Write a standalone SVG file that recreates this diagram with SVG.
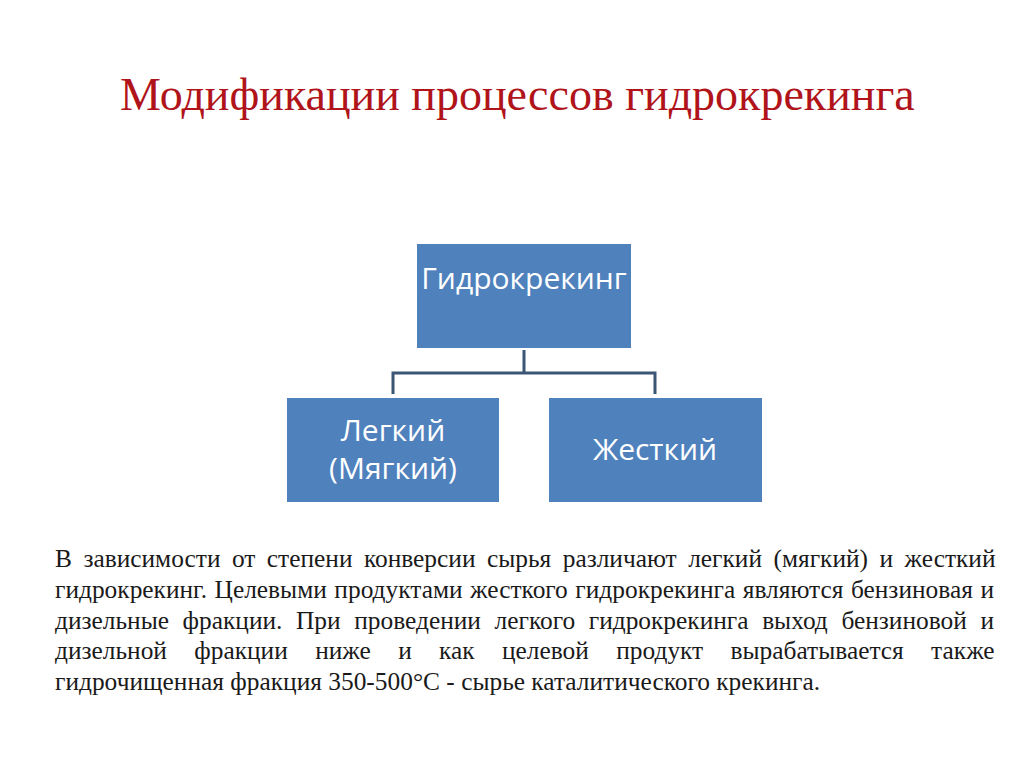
<svg xmlns="http://www.w3.org/2000/svg" width="1024" height="767" viewBox="0 0 1024 767">
<style>
.box{fill:#4F81BD;}
.bt{font-family:"Open Sans","Noto Sans",sans-serif;font-size:30px;fill:#FFFFFF;text-anchor:middle;}
.conn{fill:none;stroke:#3A5675;stroke-width:3;}
.title{font-family:"Liberation Serif",serif;font-size:46px;fill:#B0141A;}
.body{font-family:"Liberation Serif",serif;font-size:25.4px;fill:#1a1a1a;}
</style>
<rect width="1024" height="767" fill="#FFFFFF"/>
<text class="title" x="120" y="110">Модификации процессов гидрокрекинга</text>
<g id="connectors">
<path class="conn" d="M524,350 V373 M393,394 V373 H655 V394"/>
</g>
<g id="node-root">
<rect class="box" x="417" y="244" width="214" height="104"/>
<text class="bt" x="524" y="289">Гидрокрекинг</text>
</g>
<g id="node-light">
<rect class="box" x="287" y="398" width="212" height="104"/>
<text class="bt" x="393" y="441">Легкий</text>
<text class="bt" x="393" y="479">(Мягкий)</text>
</g>
<g id="node-hard">
<rect class="box" x="549" y="398" width="213" height="104"/>
<text class="bt" x="655" y="460">Жесткий</text>
</g>
<g id="text">
<text class="body" x="55" y="567" word-spacing="5.1">В зависимости от степени конверсии сырья различают легкий (мягкий) и жесткий</text>
<text class="body" x="55" y="597.8" word-spacing="1.2">гидрокрекинг. Целевыми продуктами жесткого гидрокрекинга являются бензиновая и</text>
<text class="body" x="55" y="628.6" word-spacing="7.25">дизельные фракции. При проведении легкого гидрокрекинга выход бензиновой и</text>
<text class="body" x="55" y="659.4" word-spacing="21">дизельной фракции ниже и как целевой продукт вырабатывается также</text>
<text class="body" x="55" y="690.2">гидрочищенная фракция 350-500°С - сырье каталитического крекинга.</text>
</g>
</svg>
